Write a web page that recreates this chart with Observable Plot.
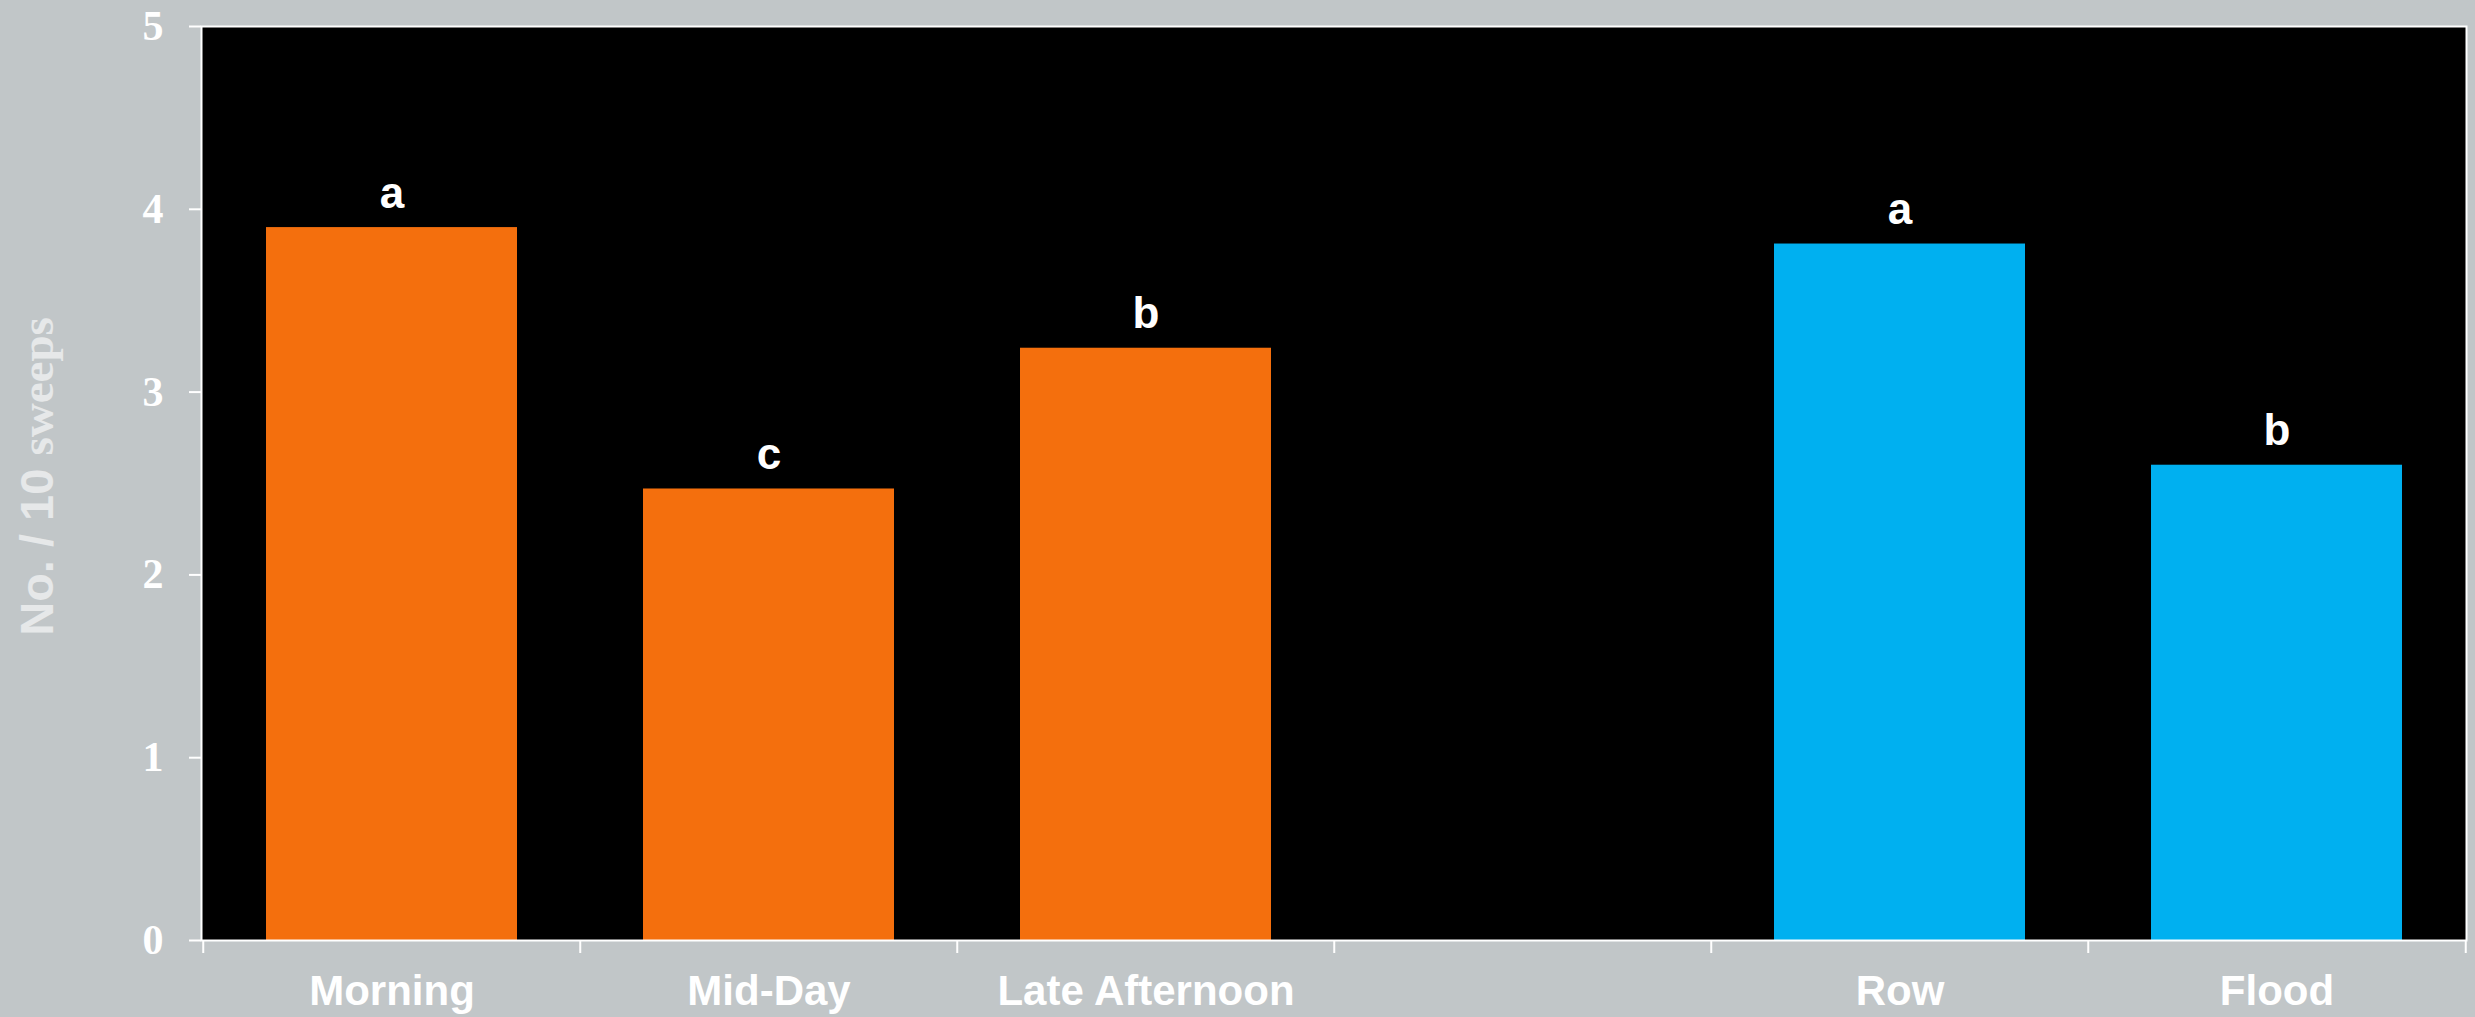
<!DOCTYPE html>
<html>
<head>
<meta charset="utf-8">
<script src="https://cdn.jsdelivr.net/npm/d3@7"></script>
<script src="https://cdn.jsdelivr.net/npm/@observablehq/plot@0.6"></script>
<style>
  html, body { margin: 0; padding: 0; background: #c1c6c8; }
  #chart { width: 2475px; height: 1017px; }
</style>
</head>
<body>
<div id="chart"></div>
<script>
// Mean number caught per 10 sweeps, by time of day and by irrigation type
const categories = ["Morning", "Mid-Day", "Late Afternoon", "Row", "Flood"];
const values = [3.9, 2.47, 3.24, 3.81, 2.6];
const letters = ["a", "c", "b", "a", "b"];
const groups = ["Time of day", "Time of day", "Time of day", "Irrigation", "Irrigation"];
// x bands: an empty slot separates the two groups
const xDomain = ["Morning", "Mid-Day", "Late Afternoon", " ", "Row", "Flood"];
const yTicks = [0, 1, 2, 3, 4, 5];
const groupColors = ["#f46f0d", "#00b0f0"];

const data = categories.map((c, i) => ({
  category: c, value: values[i], letter: letters[i], group: groups[i]
}));

const W = 2475, H = 1017;
const mL = 201, mR = 9, mT = 26, mB = 77;
const step = (W - mL - mR) / xDomain.length;

const sans = "'Liberation Sans', Arial, sans-serif";
const serif = "'Liberation Serif', 'Times New Roman', serif";

const chart = Plot.plot({
  width: W,
  height: H,
  marginLeft: mL,
  marginRight: mR,
  marginTop: mT,
  marginBottom: mB,
  style: { background: "#c1c6c8", color: "white", overflow: "visible" },
  x: { domain: xDomain, paddingInner: 0.335, paddingOuter: 0.1675, align: 0.5, axis: null },
  y: { domain: [0, 5], axis: null },
  color: { domain: ["Time of day", "Irrigation"], range: groupColors },
  marks: [
    Plot.frame({ fill: "black" }),
    Plot.barY(data, { x: "category", y: "value", fill: "group" }),
    Plot.text(data, {
      x: "category", y: "value", text: "letter",
      lineAnchor: "bottom", dy: -20,
      fill: "white", fontSize: 44, fontWeight: "bold", fontFamily: sans
    }),
    Plot.frame({ stroke: "white", strokeWidth: 2 }),
    Plot.axisY({
      ticks: yTicks, tickSize: 12, tickPadding: 26, tickFormat: d3.format("d"),
      strokeWidth: 2, fontSize: 42, fontWeight: "bold", fontFamily: serif, fill: "white",
      label: "No. / 10 sweeps", labelAnchor: "center", labelArrow: "none", labelOffset: 182
    }),
    // boundary ticks between the bands
    Plot.axisX({ ticks: xDomain, tickSize: 13, strokeWidth: 2, tickFormat: () => "", dx: -step / 2, label: null }),
    Plot.axisX({ ticks: [xDomain[xDomain.length - 1]], tickSize: 13, strokeWidth: 2, tickFormat: () => "", dx: step / 2, label: null }),
    Plot.axisX({
      ticks: xDomain, tickSize: 0, tickPadding: 35,
      fontSize: 42, fontWeight: "bold", fontFamily: sans, fill: "white", label: null
    })
  ]
});

// y label mixes a bold sans part with a bold serif part
const yLabel = chart.querySelector('g[aria-label="y-axis label"] text');
if (yLabel) {
  while (yLabel.firstChild) yLabel.removeChild(yLabel.firstChild);
  yLabel.setAttribute("fill", "#e6e8e9");
  yLabel.setAttribute("font-size", 47);
  yLabel.setAttribute("font-weight", "bold");
  yLabel.setAttribute("dx", 7);
  const parts = [
    { t: "No. / 10 ", family: sans },
    { t: "sweeps", family: serif }
  ];
  for (const p of parts) {
    const ts = document.createElementNS("http://www.w3.org/2000/svg", "tspan");
    ts.setAttribute("font-family", p.family);
    ts.textContent = p.t;
    yLabel.appendChild(ts);
  }
  yLabel.setAttribute("style", "white-space: pre");
}

document.getElementById("chart").appendChild(chart);
</script>
</body>
</html>
